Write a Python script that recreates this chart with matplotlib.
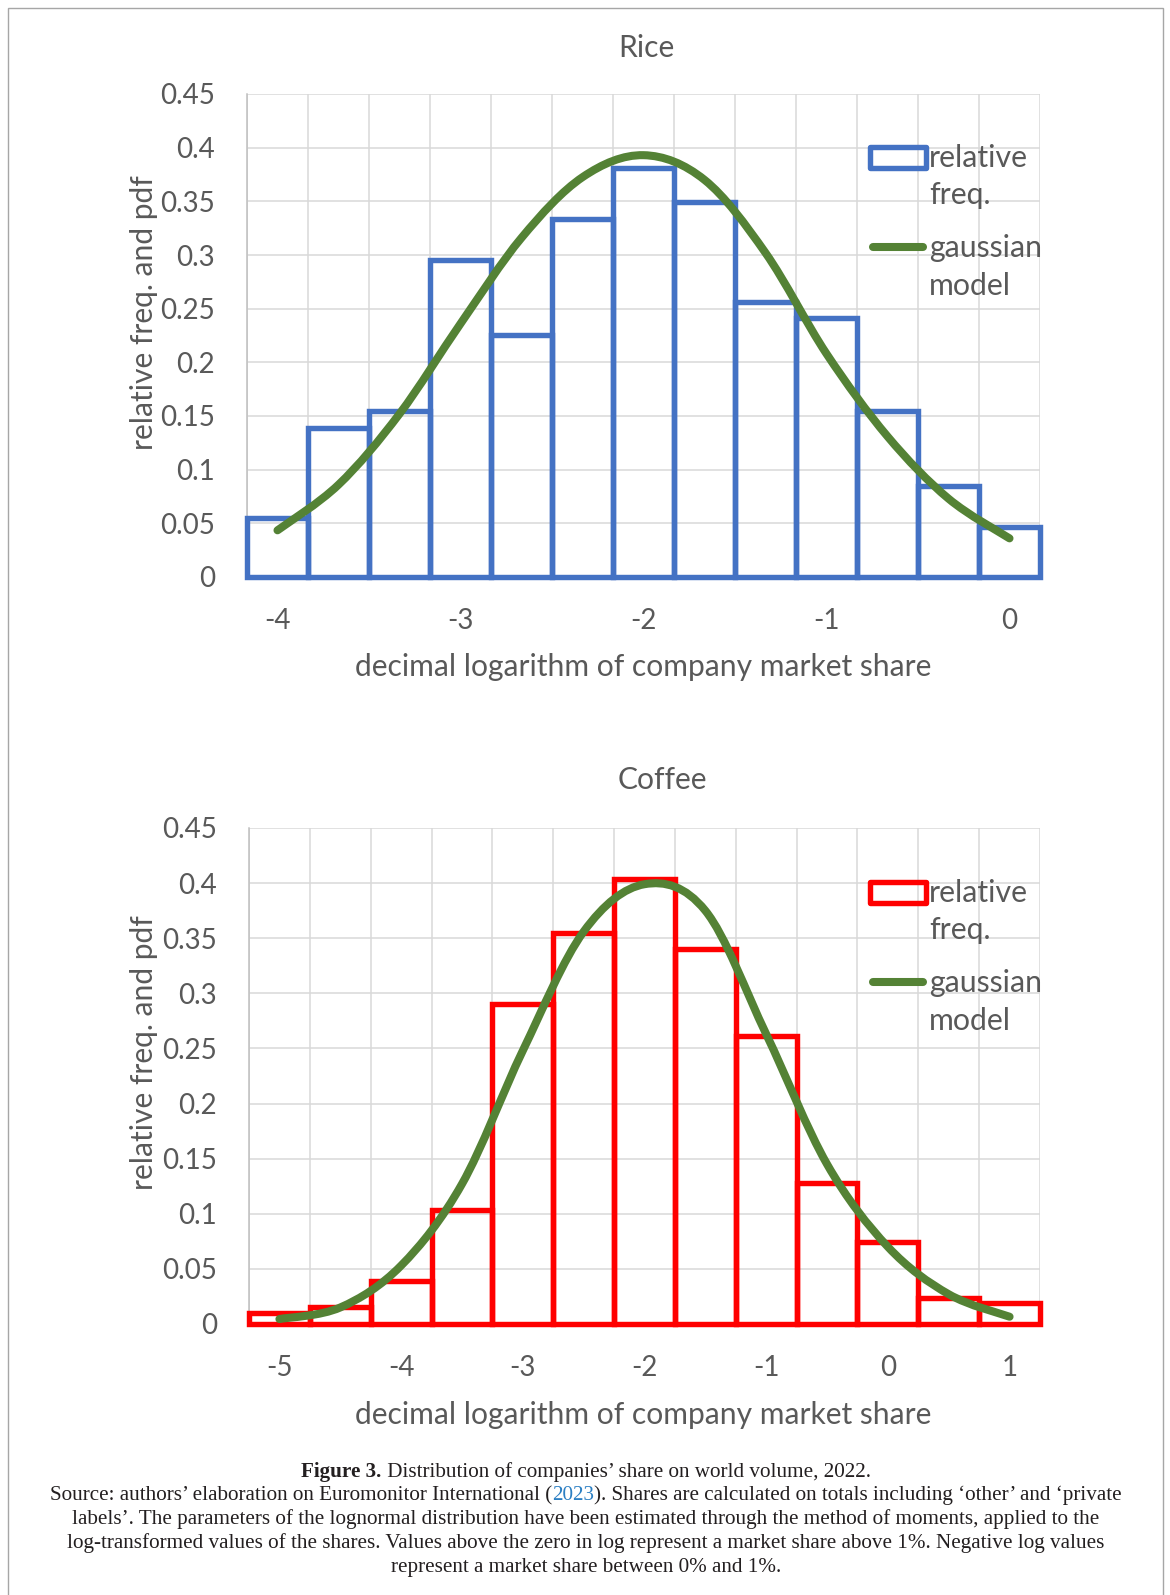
import numpy as np
import matplotlib.pyplot as plt
from matplotlib.path import Path
from matplotlib.patches import PathPatch, Rectangle
from matplotlib.lines import Line2D

# figure size in pixels
W, H = 1170, 1595

# Rice: bin centres (decimal log of market share) and values
rice_cats = [-4.0, -3.667, -3.333, -3.0, -2.667, -2.333, -2.0,
             -1.667, -1.333, -1.0, -0.667, -0.333, 0.0]
rice_freq = [0.055, 0.139, 0.155, 0.295, 0.225, 0.334, 0.381,
             0.349, 0.256, 0.241, 0.155, 0.085, 0.047]
rice_pdf = [0.0435, 0.086, 0.152, 0.236, 0.316, 0.3725, 0.393,
            0.370, 0.302, 0.208, 0.131, 0.073, 0.036]

# Coffee
coffee_cats = [-5.0, -4.5, -4.0, -3.5, -3.0, -2.5, -2.0,
               -1.5, -1.0, -0.5, 0.0, 0.5, 1.0]
coffee_freq = [0.010, 0.015, 0.039, 0.103, 0.290, 0.355, 0.404,
               0.340, 0.261, 0.128, 0.074, 0.024, 0.019]
coffee_pdf = [0.0045, 0.015, 0.053, 0.127, 0.248, 0.356, 0.399,
              0.375, 0.263, 0.145, 0.070, 0.027, 0.0066]

y_ticks = [0, 0.05, 0.1, 0.15, 0.2, 0.25, 0.3, 0.35, 0.4, 0.45]
y_ticklabels = ['0', '0.05', '0.1', '0.15', '0.2', '0.25', '0.3', '0.35', '0.4', '0.45']

BLUE = '#4472C4'
RED = '#FF0000'
GREEN = '#548235'
GRID = '#D9D9D9'
TXT = '#595959'
FONT = 'Lato'

plt.rcParams['font.family'] = FONT


def fx(px):
    return px / W


def fy(py):
    return 1 - py / H


def smooth_path(xs, ys):
    # smoothed line like Excel: catmull-rom as cubic bezier
    pts = np.column_stack([xs, ys]).astype(float)
    ext = np.vstack([pts[0], pts, pts[-1]])
    verts = [pts[0]]
    codes = [Path.MOVETO]
    for i in range(len(pts) - 1):
        p0, p1, p2, p3 = ext[i], ext[i + 1], ext[i + 2], ext[i + 3]
        verts += [p1 + (p2 - p0) / 6, p2 - (p3 - p1) / 6, p2]
        codes += [Path.CURVE4] * 3
    return Path(verts, codes)


def draw_panel(ax, cats, freq, pdf, color):
    x = np.arange(len(cats))
    ax.bar(x, freq, width=1.0, facecolor='none', edgecolor=color,
           linewidth=3.9, clip_on=False, zorder=3)
    ax.add_patch(PathPatch(smooth_path(x, pdf), fill=False, edgecolor=GREEN,
                           lw=5.8, capstyle='round', joinstyle='round', zorder=4))
    ax.set_xlim(-0.5, len(cats) - 0.5)
    ax.set_ylim(0, 0.45)
    ax.set_yticks(y_ticks)
    ax.set_yticklabels(y_ticklabels)
    idx = [i for i, c in enumerate(cats) if abs(c - round(c)) < 1e-9]
    ax.set_xticks(idx)
    ax.set_xticklabels([str(int(round(cats[i]))) for i in idx])
    ax.set_xticks(np.arange(len(cats) + 1) - 0.5, minor=True)
    ax.grid(which='minor', axis='x', color=GRID, lw=1.1, zorder=0)
    ax.grid(which='major', axis='y', color=GRID, lw=1.1, zorder=0)
    ax.set_axisbelow(True)
    ax.tick_params(which='both', length=0, labelsize=20, labelcolor=TXT)
    ax.tick_params(axis='x', pad=22)
    ax.tick_params(axis='y', pad=23)
    for s in ['top', 'right']:
        ax.spines[s].set_visible(False)
    ax.spines['left'].set_color('#BFBFBF')
    ax.spines['bottom'].set_color('#BFBFBF')
    ax.spines['left'].set_linewidth(1.1)
    ax.spines['bottom'].set_linewidth(1.1)


def draw_legend(dy, color):
    fig.add_artist(Rectangle((fx(870), fy(168 + dy)), fx(926) - fx(870), fy(147 + dy) - fy(168 + dy),
                             transform=fig.transFigure, fill=False, ec=color, lw=3.9,
                             joinstyle='round'))
    fig.add_artist(Line2D([fx(873), fx(923)], [fy(247 + dy)] * 2, transform=fig.transFigure,
                          color=GREEN, lw=5.8, solid_capstyle='round'))
    for txt, base in [('relative', 167), ('freq.', 204), ('gaussian', 257), ('model', 295)]:
        fig.text(fx(929), fy(base + dy), txt, fontsize=21.8, color=TXT, va='baseline', ha='left')


fig = plt.figure(figsize=(W / 100, H / 100), dpi=100)

# outer frame (bottom is cut off)
fig.add_artist(Rectangle((fx(7.5), -0.05), fx(1163) - fx(7.5), fy(8) + 0.05,
                         transform=fig.transFigure, fill=False, ec='#A6A6A6', lw=1.0))

ax1 = fig.add_axes([fx(247), fy(577), fx(1040) - fx(247), fy(94) - fy(577)])
draw_panel(ax1, rice_cats, rice_freq, rice_pdf, BLUE)
ax2 = fig.add_axes([fx(249), fy(1324), fx(1040) - fx(249), fy(828) - fy(1324)])
draw_panel(ax2, coffee_cats, coffee_freq, coffee_pdf, RED)

LBL = 21.6
fig.text(fx(646), fy(48), 'Rice', fontsize=LBL, color=TXT, ha='center', va='center')
fig.text(fx(662), fy(780), 'Coffee', fontsize=LBL, color=TXT, ha='center', va='center')
fig.text(fx(643), fy(667), 'decimal logarithm of company market share', fontsize=LBL,
         color=TXT, ha='center', va='center')
fig.text(fx(643), fy(1415), 'decimal logarithm of company market share', fontsize=LBL,
         color=TXT, ha='center', va='center')
fig.text(fx(144), fy(313), 'relative freq. and pdf', fontsize=LBL, color=TXT,
         ha='center', va='center', rotation=90)
fig.text(fx(144), fy(1053), 'relative freq. and pdf', fontsize=LBL, color=TXT,
         ha='center', va='center', rotation=90)

draw_legend(0, BLUE)
draw_legend(735, RED)

# caption, centred lines with mixed styles
renderer = fig.canvas.get_renderer()


def rich_line(base, parts, size=15.2):
    texts, widths = [], []
    for s, color, weight in parts:
        t = fig.text(0, fy(base), s, fontsize=size, family='Liberation Serif',
                     color=color, weight=weight, va='baseline', ha='left')
        widths.append(t.get_window_extent(renderer=renderer).width)
        texts.append(t)
    x0 = 586 - sum(widths) / 2
    for t, w in zip(texts, widths):
        t.set_x(fx(x0))
        x0 += w


CAP = '#231F20'
rich_line(1477, [('Figure 3.', CAP, 'bold'),
                 (' Distribution of companies’ share on world volume, 2022.', CAP, 'normal')])
rich_line(1500, [('Source: authors’ elaboration on Euromonitor International (', CAP, 'normal'),
                 ('2023', '#2B7FC3', 'normal'),
                 ('). Shares are calculated on totals including ‘other’ and ‘private', CAP, 'normal')])
rich_line(1524, [('labels’. The parameters of the lognormal distribution have been estimated '
                  'through the method of moments, applied to the', CAP, 'normal')])
rich_line(1548, [('log-transformed values of the shares. Values above the zero in log represent '
                  'a market share above 1%. Negative log values', CAP, 'normal')])
rich_line(1572, [('represent a market share between 0% and 1%.', CAP, 'normal')])

fig.savefig('out.png', dpi=100)
